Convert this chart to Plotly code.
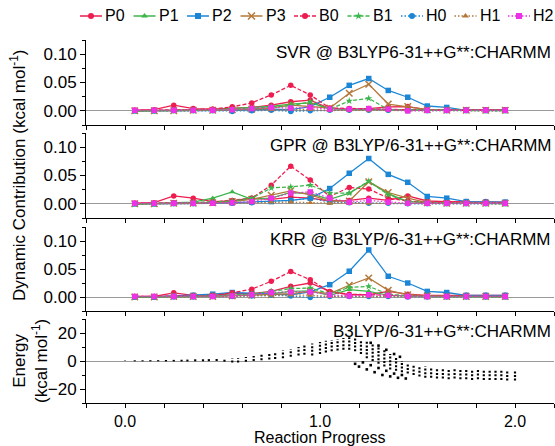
import plotly.graph_objects as go

# ---------------- data ----------------
progress = [0.05, 0.15, 0.25, 0.35, 0.45, 0.55, 0.65, 0.75, 0.85, 0.95,
            1.05, 1.15, 1.25, 1.35, 1.45, 1.55, 1.65, 1.75, 1.85, 1.95]

series_names = ["P0", "P1", "P2", "P3", "B0", "B1", "H0", "H1", "H2"]

svr = {
    "P0": [0.001, 0.002, 0.010, 0.004, 0.003, 0.004, 0.006, 0.010, 0.016, 0.019, 0.004, 0.003, 0.004, 0.007, 0.0075, 0.002, 0.002, 0.002, 0.002, 0.002],
    "P1": [0.000, 0.001, 0.002, 0.002, 0.002, 0.004, 0.005, 0.008, 0.012, 0.014, 0.004, 0.002, 0.003, 0.002, 0.001, 0.001, 0.001, 0.001, 0.001, 0.001],
    "P2": [0.000, 0.000, 0.001, 0.001, 0.001, 0.001, 0.002, 0.003, 0.002, 0.0075, 0.024, 0.045, 0.057, 0.036, 0.024, 0.0085, 0.006, 0.001, 0.001, 0.001],
    "P3": [0.000, 0.000, 0.000, 0.001, 0.001, 0.002, 0.003, 0.005, 0.010, 0.008, 0.005, 0.031, 0.047, 0.012, 0.0075, 0.002, 0.001, 0.001, 0.001, 0.001],
    "B0": [0.001, 0.001, 0.002, 0.002, 0.003, 0.007, 0.014, 0.028, 0.045, 0.028, 0.005, 0.004, 0.003, 0.002, 0.001, 0.001, 0.001, 0.001, 0.001, 0.001],
    "B1": [0.000, 0.000, 0.001, 0.001, 0.001, 0.002, 0.004, 0.006, 0.009, 0.016, 0.003, 0.0175, 0.022, 0.002, 0.001, 0.001, 0.001, 0.001, 0.000, 0.000],
    "H0": [0.000, 0.000, 0.000, 0.000, 0.000, -0.001, 0.000, 0.001, -0.001, 0.000, 0.001, 0.001, 0.001, 0.001, 0.000, 0.000, 0.000, 0.000, 0.000, 0.000],
    "H1": [0.000, 0.000, 0.000, 0.000, 0.000, 0.001, 0.002, 0.002, 0.003, 0.002, 0.001, 0.001, 0.001, 0.001, 0.000, 0.000, 0.000, 0.000, 0.000, 0.000],
    "H2": [0.001, 0.001, 0.001, 0.001, 0.001, 0.002, 0.004, 0.006, 0.005, 0.006, 0.003, 0.003, 0.004, 0.003, 0.000, 0.001, 0.001, 0.001, 0.001, 0.001],
}

gpr = {
    "P0": [0.001, 0.002, 0.014, 0.010, 0.004, 0.005, 0.010, 0.008, 0.012, 0.010, 0.005, 0.006, 0.010, 0.006, 0.014, 0.005, 0.004, 0.004, 0.004, 0.003],
    "P1": [0.000, 0.001, 0.002, 0.003, 0.010, 0.021, 0.008, 0.010, 0.020, 0.018, 0.008, 0.019, 0.039, 0.018, 0.004, 0.002, 0.001, 0.001, 0.001, 0.001],
    "P2": [0.000, 0.000, 0.001, 0.001, 0.001, 0.002, 0.003, 0.004, 0.006, 0.010, 0.027, 0.054, 0.080, 0.052, 0.038, 0.013, 0.010, 0.004, 0.003, 0.003],
    "P3": [0.000, 0.000, 0.001, 0.001, 0.002, 0.004, 0.008, 0.015, 0.023, 0.016, 0.005, 0.005, 0.039, 0.020, 0.010, 0.002, 0.001, 0.001, 0.001, 0.001],
    "B0": [0.001, 0.001, 0.002, 0.002, 0.003, 0.006, 0.010, 0.033, 0.0665, 0.042, 0.013, 0.029, 0.026, 0.010, 0.005, 0.002, 0.002, 0.001, 0.001, 0.001],
    "B1": [0.000, 0.000, 0.001, 0.002, 0.003, 0.005, 0.010, 0.028, 0.030, 0.033, 0.019, 0.019, 0.040, 0.016, 0.004, 0.002, 0.001, 0.001, 0.001, 0.000],
    "H0": [0.000, 0.000, 0.000, 0.000, 0.001, 0.001, 0.002, 0.005, 0.006, 0.010, 0.003, 0.002, 0.001, 0.001, 0.000, 0.000, 0.000, 0.000, 0.000, 0.000],
    "H1": [0.000, 0.000, 0.000, 0.000, 0.000, 0.001, 0.002, 0.003, 0.003, 0.002, 0.001, 0.001, 0.001, 0.001, 0.000, 0.000, 0.000, 0.000, 0.000, 0.000],
    "H2": [0.001, 0.001, 0.001, 0.001, 0.001, 0.002, 0.004, 0.010, 0.019, 0.021, 0.010, 0.003, 0.006, 0.003, 0.001, 0.001, 0.001, 0.001, 0.001, 0.001],
}

krr = {
    "P0": [0.001, 0.001, 0.0075, 0.003, 0.003, 0.006, 0.006, 0.010, 0.019, 0.025, 0.010, 0.004, 0.004, 0.010, 0.005, 0.003, 0.003, 0.003, 0.003, 0.003],
    "P1": [0.000, 0.000, 0.002, 0.002, 0.002, 0.003, 0.004, 0.006, 0.010, 0.011, 0.003, 0.013, 0.010, 0.003, 0.002, 0.001, 0.001, 0.001, 0.001, 0.001],
    "P2": [0.000, 0.000, 0.002, 0.003, 0.005, 0.008, 0.007, 0.006, 0.004, 0.009, 0.022, 0.046, 0.084, 0.037, 0.025, 0.010, 0.008, 0.003, 0.003, 0.003],
    "P3": [0.000, 0.000, 0.001, 0.001, 0.001, 0.002, 0.003, 0.004, 0.006, 0.010, 0.006, 0.021, 0.034, 0.012, 0.004, 0.002, 0.001, 0.001, 0.001, 0.001],
    "B0": [0.001, 0.001, 0.002, 0.002, 0.003, 0.0075, 0.014, 0.028, 0.0455, 0.031, 0.009, 0.005, 0.004, 0.003, 0.002, 0.001, 0.001, 0.001, 0.001, 0.001],
    "B1": [0.000, 0.000, 0.001, 0.001, 0.002, 0.003, 0.005, 0.010, 0.015, 0.016, 0.006, 0.017, 0.019, 0.005, 0.002, 0.001, 0.001, 0.001, 0.000, 0.000],
    "H0": [0.000, 0.000, 0.000, 0.000, 0.001, 0.001, 0.002, 0.003, 0.002, -0.001, 0.001, 0.001, 0.001, 0.001, 0.000, 0.000, 0.000, 0.000, 0.000, 0.000],
    "H1": [0.000, 0.000, 0.000, 0.000, 0.000, 0.001, 0.002, 0.003, 0.004, 0.003, 0.001, 0.001, 0.001, 0.001, 0.000, 0.000, 0.000, 0.000, 0.000, 0.000],
    "H2": [0.001, 0.001, 0.001, 0.001, 0.001, 0.002, 0.004, 0.008, 0.009, 0.009, 0.004, 0.002, 0.004, 0.003, 0.001, 0.001, 0.001, 0.001, 0.001, 0.001],
}

# energy: columns of sampled frames (x, lowest, highest energy)
energy_x = [0.00, 0.05, 0.09, 0.13, 0.17, 0.21, 0.25, 0.29, 0.32, 0.36, 0.40, 0.43, 0.47, 0.51,
            0.55, 0.58, 0.62, 0.66, 0.70, 0.74, 0.77, 0.81, 0.85, 0.89, 0.92, 0.96, 1.00, 1.03,
            1.06, 1.09, 1.12, 1.15, 1.18, 1.21, 1.24, 1.27, 1.30, 1.33, 1.36, 1.39, 1.42, 1.45,
            1.48, 1.51, 1.54, 1.57, 1.60, 1.63, 1.66, 1.69, 1.72, 1.75, 1.78, 1.81, 1.84, 1.87,
            1.90, 1.93, 1.96, 2.00]
energy_lo = [0.0, -0.2, -0.2, -0.2, -0.2, -0.3, -0.3, -0.3, -0.3, -0.2, -0.2, -0.1, 0.0, -0.5,
             -1.0, -1.0, -0.5, 0.0, 0.5, 1.0, 1.5, 2.0, 3.0, 4.0, 4.5, 4.0, 5.0, 6.0,
             7.0, 7.5, 8.0, 8.0, 7.0, 5.0, 2.0, 0.0, -2.0, -4.0, -6.0, -7.0, -8.0, -9.0,
             -10.0, -11.0, -12.0, -12.0, -12.5, -12.5, -13.0, -12.5, -13.0, -13.0, -13.5, -13.0, -13.5, -13.5,
             -13.5, -13.5, -14.0, -14.0]
energy_hi = [0.3, 0.5, 0.5, 0.6, 0.6, 0.7, 0.8, 0.9, 1.0, 1.2, 1.3, 1.5, 1.6, 1.8,
             2.0, 2.2, 2.8, 3.5, 4.5, 5.5, 6.5, 7.5, 8.5, 10.0, 11.0, 12.5, 13.5, 14.5,
             15.0, 15.5, 16.5, 17.0, 16.0, 15.0, 14.0, 12.5, 10.0, 8.0, 5.0, 3.0, 0.0, -2.0,
             -3.0, -3.5, -4.0, -4.5, -5.0, -5.0, -5.5, -5.5, -5.5, -6.0, -6.0, -6.0, -6.5, -6.5,
             -6.5, -6.5, -7.0, -7.0]
# scattered frames of the descending branch
branch_x = [1.18, 1.20, 1.22, 1.24, 1.26, 1.28, 1.30, 1.32, 1.34, 1.36, 1.38, 1.40, 1.42, 1.44,
            1.26, 1.30, 1.34, 1.38, 1.41]
branch_e = [-2.0, -4.0, -1.0, -6.0, -3.0, -8.0, -5.0, -10.0, -7.0, -11.0, -9.0, -12.0, -10.0, -12.5,
            13.0, 11.0, 8.0, 5.0, 3.0]

panel_titles = ["SVR @ B3LYP6-31++G**:CHARMM",
                "GPR @ B3LYP/6-31++G**:CHARMM",
                "KRR @ B3LYP/6-31++G**:CHARMM",
                "B3LYP/6-31++G**:CHARMM"]

# ---------------- styles ----------------
RED, GREEN, BLUE, BROWN, MAG = "#ee1d4f", "#3cb54a", "#1b86d6", "#b3783a", "#ee30e6"
style = {
    "P0": dict(color=RED, dash="solid", symbol="circle"),
    "P1": dict(color=GREEN, dash="solid", symbol="triangle-up"),
    "P2": dict(color=BLUE, dash="solid", symbol="square"),
    "P3": dict(color=BROWN, dash="solid", symbol="x-thin"),
    "B0": dict(color=RED, dash="4px,2px", symbol="circle"),
    "B1": dict(color=GREEN, dash="4px,2px", symbol="star"),
    "H0": dict(color=BLUE, dash="1.5px,2px", symbol="circle"),
    "H1": dict(color=BROWN, dash="1.5px,2px", symbol="triangle-up"),
    "H2": dict(color=MAG, dash="1.5px,2px", symbol="square"),
}

W, H = 555, 446
FONT = "Liberation Sans, Arial, sans-serif"


def fx(p):
    return p / W


def fy(p):
    return 1 - p / H


def marker_for(name, size=6):
    s = style[name]
    if s["symbol"] == "x-thin":
        return dict(symbol="x-thin", size=size + 1, color=s["color"],
                    line=dict(color=s["color"], width=1.5))
    return dict(symbol=s["symbol"], size=size, color=s["color"], line=dict(width=0))


fig = go.Figure()

for k, data in enumerate([svr, gpr, krr], start=1):
    for name in series_names:
        s = style[name]
        fig.add_trace(go.Scatter(
            x=progress, y=data[name], mode="lines+markers", name=name,
            xaxis=f"x{k}", yaxis=f"y{k}", showlegend=False,
            line=dict(color=s["color"], dash=s["dash"], width=1.3),
            marker=marker_for(name, 5.5)))

# energy panel
ex, ey = [], []
for x, lo, hi in zip(energy_x, energy_lo, energy_hi):
    ex += [x, x, None]
    ey += [lo, hi, None]
fig.add_trace(go.Scatter(x=ex, y=ey, mode="lines", xaxis="x4", yaxis="y4", showlegend=False,
                         line=dict(color="black", width=2.2, dash="2px,1.6px")))
fig.add_trace(go.Scatter(x=branch_x, y=branch_e, mode="markers", xaxis="x4", yaxis="y4",
                         showlegend=False,
                         marker=dict(symbol="square", size=2.6, color="black")))

# manual compact legend on an overlay axis measured in pixels
LEG_X0, LEG_STEP, LEG_LINE, LEG_Y = 80, 53.5, 22, 16
for i, name in enumerate(series_names):
    s = style[name]
    x0 = LEG_X0 + i * LEG_STEP
    fig.add_trace(go.Scatter(x=[x0, x0 + LEG_LINE], y=[LEG_Y, LEG_Y], mode="lines",
                             xaxis="x5", yaxis="y5", showlegend=False, hoverinfo="skip",
                             line=dict(color=s["color"], dash=s["dash"], width=1.5)))
    fig.add_trace(go.Scatter(x=[x0 + LEG_LINE / 2], y=[LEG_Y], mode="markers",
                             xaxis="x5", yaxis="y5", showlegend=False, hoverinfo="skip",
                             marker=marker_for(name, 6)))
    fig.add_annotation(x=fx(x0 + LEG_LINE + 1), y=fy(LEG_Y), xref="paper", yref="paper",
                       text=name, showarrow=False, xanchor="left", yanchor="middle",
                       font=dict(size=16, color="black", family=FONT))

xdom = [fx(86), fx(554)]
ydoms = [[fy(125), fy(40)], [fy(218), fy(133)], [fy(311), fy(227)], [fy(403), fy(319)]]

axis_common = dict(showline=True, linecolor="black", linewidth=1, ticks="outside",
                   ticklen=5, tickcolor="black", tickwidth=1, showgrid=False,
                   tickfont=dict(size=17, color="black", family=FONT), automargin=False)

layout = dict(width=W, height=H, margin=dict(l=0, r=0, t=0, b=0),
              paper_bgcolor="white", plot_bgcolor="rgba(0,0,0,0)",
              font=dict(family=FONT, color="black"), showlegend=False)

for k in range(1, 5):
    xa = dict(axis_common, domain=xdom, range=[-0.2, 2.2], tick0=0, dtick=1,
              tickformat=".1f", showticklabels=(k == 4), anchor=f"y{k}", zeroline=False,
              ticklen=4, tickfont=dict(size=16, color="black", family=FONT),
              minor=dict(ticks="outside", ticklen=4, dtick=0.2, tick0=0, tickcolor="black"))
    if k > 1:
        xa["matches"] = "x"
    layout[f"xaxis{'' if k == 1 else k}"] = xa
    if k < 4:
        ya = dict(axis_common, domain=ydoms[k - 1], range=[-0.025, 0.125], tick0=0, dtick=0.05,
                  tickformat=".2f", anchor=f"x{k}",
                  minor=dict(ticks="outside", ticklen=3, dtick=0.025, tick0=0, tickcolor="black"),
                  zeroline=True, zerolinecolor="#999999", zerolinewidth=1)
    else:
        ya = dict(axis_common, domain=ydoms[3], range=[-30, 30], tick0=0, dtick=20,
                  anchor="x4",
                  minor=dict(ticks="outside", ticklen=3, dtick=10, tick0=0, tickcolor="black"),
                  zeroline=True, zerolinecolor="#999999", zerolinewidth=1)
    layout[f"yaxis{'' if k == 1 else k}"] = ya

layout["xaxis5"] = dict(domain=[0, 1], range=[0, W], visible=False, anchor="y5", fixedrange=True)
layout["yaxis5"] = dict(domain=[fy(34), fy(2)], range=[34, 2], visible=False, anchor="x5",
                        fixedrange=True)

fig.update_layout(**layout)

# panel titles
for k, title in enumerate(panel_titles):
    fig.add_annotation(x=fx(553), y=ydoms[k][1] - 1 / H, xref="paper", yref="paper",
                       text=title, showarrow=False, xanchor="right", yanchor="top",
                       font=dict(size=17, color="black", family=FONT))

# axis titles
fig.add_annotation(x=fx(18), y=fy(175), xref="paper", yref="paper",
                   text="Dynamic Contribution (kcal mol<sup>-1</sup>)", textangle=-90,
                   showarrow=False, xanchor="center", yanchor="middle",
                   font=dict(size=17, color="black", family=FONT))
fig.add_annotation(x=fx(30), y=fy(361), xref="paper", yref="paper",
                   text="Energy<br>(kcal mol<sup>-1</sup>)", textangle=-90,
                   showarrow=False, xanchor="center", yanchor="middle",
                   font=dict(size=17, color="black", family=FONT))
fig.add_annotation(x=fx(320), y=0, xref="paper", yref="paper",
                   text="Reaction Progress", showarrow=False, xanchor="center",
                   yanchor="bottom", yshift=-2, font=dict(size=16, color="black", family=FONT))

fig.write_html("out.html", config={"displayModeBar": False},
               post_script="document.body.style.margin='0px';document.body.style.overflow='hidden';")
